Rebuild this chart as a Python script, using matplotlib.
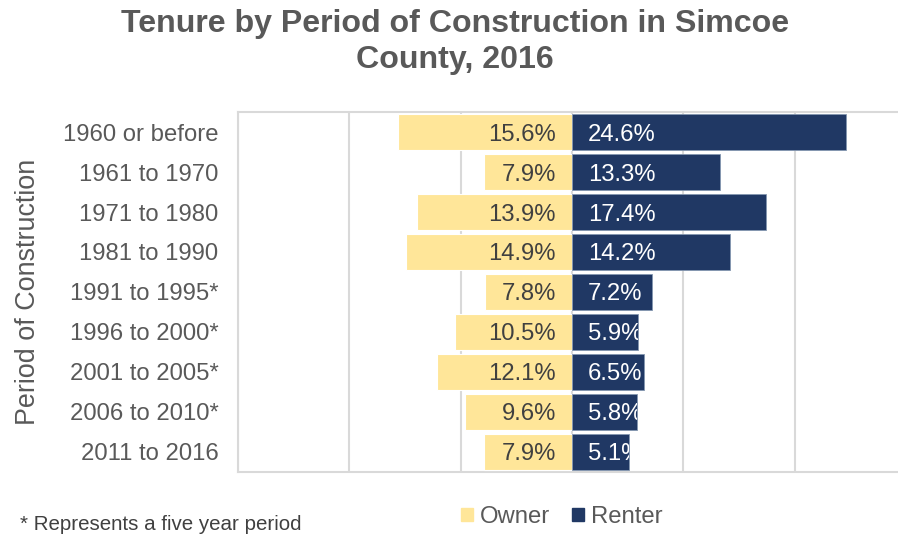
import matplotlib
matplotlib.use('Agg')
import matplotlib.pyplot as plt
import matplotlib.patches as mpatches
import numpy as np

plt.rcParams['font.family'] = ['Liberation Sans', 'DejaVu Sans']

# Data
periods = ["1960 or before", "1961 to 1970", "1971 to 1980", "1981 to 1990",
           "1991 to 1995*", "1996 to 2000*", "2001 to 2005*", "2006 to 2010*",
           "2011 to 2016"]
owner = [15.6, 7.9, 13.9, 14.9, 7.8, 10.5, 12.1, 9.6, 7.9]
renter = [24.6, 13.3, 17.4, 14.2, 7.2, 5.9, 6.5, 5.8, 5.1]

owner_color = '#FFE699'
renter_color = '#203864'
grey = '#595959'

W, H = 898, 535
fig = plt.figure(figsize=(W / 100, H / 100), dpi=100)
ax = fig.add_axes([238 / W, (H - 472) / H, (906 - 238) / W, (472 - 112) / H])

y = np.arange(len(periods))
bars_o = ax.barh(y, [-v for v in owner], height=0.9, color=owner_color,
                 edgecolor='white', linewidth=0.8, zorder=3)
bars_r = ax.barh(y, renter, height=0.9, color=renter_color,
                 edgecolor='#8497B0', linewidth=0.6, zorder=3)

# Data labels
for b, v in zip(bars_o, owner):
    ax.annotate(f"{v:.1f}%", xy=(0, b.get_y() + b.get_height() / 2),
                xytext=(-11.5, 0), textcoords='offset points', ha='right',
                va='center_baseline', fontsize=17.2, color='#404040', zorder=4)
for b, v in zip(bars_r, renter):
    t = ax.annotate(f"{v:.1f}%", xy=(0, b.get_y() + b.get_height() / 2),
                    xytext=(11.5, 0), textcoords='offset points', ha='left',
                    va='center_baseline', fontsize=17.2, color='white', zorder=4)
    t.set_clip_path(b)

ax.set_xlim(-30, 30)
ax.set_ylim(len(periods) - 0.5, -0.5)
ax.set_xticks(np.arange(-30, 31, 10))
ax.xaxis.grid(True, color='#D9D9D9', linewidth=1.5, zorder=0)
ax.tick_params(axis='x', length=0, labelbottom=False)
ax.set_yticks(y)
ax.set_yticklabels(periods, fontsize=17.2, color=grey)
ax.tick_params(axis='y', length=0, pad=14)
for s in ax.spines.values():
    s.set_color('#D9D9D9')
    s.set_linewidth(1.5)

# Titles and labels
fig.text(455 / W, 1 - 42 / H, "Tenure by Period of Construction in Simcoe\nCounty, 2016",
         ha='center', va='center', fontsize=23.1, fontweight='bold', color=grey,
         linespacing=1.28)
fig.text(28 / W, 1 - 292 / H, "Period of Construction", rotation=90,
         ha='center', va='center', fontsize=19.4, color=grey)
fig.text(20 / W, 1 - 530 / H, "* Represents a five year period",
         ha='left', va='baseline', fontsize=14.8, color='#404040')

handles = [mpatches.Patch(color=owner_color, label='Owner'),
           mpatches.Patch(color=renter_color, label='Renter')]
fig.legend(handles=handles, loc='center', bbox_to_anchor=(562 / W, 1 - 517 / H),
           ncol=2, frameon=False, fontsize=17.2, handlelength=0.5,
           handleheight=0.5, handletextpad=0.3, columnspacing=0.9,
           labelcolor=grey)

plt.savefig('out.png', dpi=100)
